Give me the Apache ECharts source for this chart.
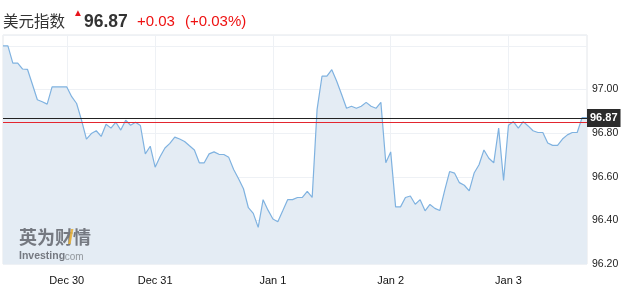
<!DOCTYPE html>
<html>
<head>
<meta charset="utf-8">
<style>html,body{margin:0;padding:0;background:#fff;}#c{width:623px;height:297px;}</style>
<script src="https://cdn.jsdelivr.net/npm/echarts@6/dist/echarts.min.js"></script>
</head>
<body>
<div id="c"></div>
<script>
// ---- data ----
var titleName = '美元指数';
var lastPrice = '96.87';
var changeAbs = '+0.03';
var changePct = '(+0.03%)';
var currentLevel = 96.87;
var prevCloseLevel = 96.85;
var dayLabels = ['Dec 30', 'Dec 31', 'Jan 1', 'Jan 2', 'Jan 3'];
var dayStartIndex = [13, 31, 55, 79, 103];
var yTicks = [96.20, 96.40, 96.60, 96.80, 97.00];
var prices = [
  97.200, 97.200, 97.121, 97.121, 97.094, 97.092, 97.023, 96.953, 96.944, 96.933,
  97.012, 97.012, 97.012, 97.012, 96.967, 96.936, 96.860, 96.773, 96.798, 96.811,
  96.785, 96.841, 96.823, 96.850, 96.814, 96.859, 96.836, 96.850, 96.835, 96.705,
  96.740, 96.644, 96.692, 96.732, 96.753, 96.782, 96.773, 96.762, 96.742, 96.723,
  96.664, 96.664, 96.705, 96.714, 96.703, 96.702, 96.689, 96.633, 96.591, 96.545,
  96.458, 96.432, 96.368, 96.495, 96.447, 96.406, 96.394, 96.444, 96.495, 96.495,
  96.505, 96.505, 96.533, 96.505, 96.909, 97.061, 97.061, 97.091, 97.038, 96.977,
  96.914, 96.923, 96.914, 96.923, 96.941, 96.923, 96.914, 96.941, 96.664, 96.714,
  96.462, 96.462, 96.505, 96.512, 96.474, 96.495, 96.444, 96.473, 96.455, 96.445,
  96.538, 96.624, 96.617, 96.573, 96.561, 96.535, 96.617, 96.655, 96.723, 96.685,
  96.664, 96.823, 96.583, 96.836, 96.853, 96.823, 96.853, 96.833, 96.811, 96.803,
  96.803, 96.755, 96.744, 96.744, 96.773, 96.792, 96.803, 96.803, 96.871, 96.871
];

// ---- build ----
var categories = prices.map(function (p, i) {
  var k = dayStartIndex.indexOf(i);
  return k >= 0 ? dayLabels[k] : 'p' + i;
});
function isDayStart(i) { return dayStartIndex.indexOf(i) >= 0; }

var latin = '"Liberation Sans", Arial, sans-serif';
var cjk = '"Noto Sans CJK SC", "Liberation Sans", sans-serif';

var chart = echarts.init(document.getElementById('c'), null, {renderer: 'canvas'});
chart.setOption({
  animation: false,
  backgroundColor: '#ffffff',
  grid: {left: 3, right: 36, top: 35, bottom: 33, show: true, borderColor: '#e3e6ea', borderWidth: 1},
  xAxis: {
    type: 'category',
    data: categories,
    boundaryGap: false,
    axisLine: {show: false},
    axisTick: {show: false},
    axisLabel: {
      interval: function (i) { return isDayStart(i); },
      color: '#111', fontSize: 11, fontFamily: latin, margin: 11
    },
    splitLine: {show: true, interval: function (i) { return isDayStart(i); }, lineStyle: {color: '#eef1f5', width: 1}}
  },
  yAxis: {
    type: 'value',
    position: 'right',
    min: 96.2, max: 97.25, interval: 0.2,
    axisLine: {show: false},
    axisTick: {show: false},
    axisLabel: {
      color: '#222', fontSize: 10.5, fontFamily: latin, margin: 5,
      formatter: function (v) {
        for (var i = 0; i < yTicks.length; i++) if (Math.abs(yTicks[i] - v) < 1e-6) return yTicks[i].toFixed(2);
        return '';
      }
    },
    splitLine: {show: true, lineStyle: {color: '#eef1f5', width: 1}}
  },
  series: [{
    type: 'line',
    data: prices,
    symbol: 'none',
    smooth: false,
    lineStyle: {color: '#7fb2e0', width: 1.2},
    areaStyle: {color: '#e4ecf4', origin: 'start', opacity: 1},
    markLine: {
      silent: true,
      symbol: ['none', 'none'],
      data: [
        {yAxis: prevCloseLevel, lineStyle: {color: '#e3262f', width: 1, type: 'solid'}, label: {show: false}},
        {yAxis: currentLevel, lineStyle: {color: '#222', width: 1.2, type: 'solid'},
          label: {show: true, position: 'end', formatter: lastPrice, distance: 0,
            backgroundColor: '#2b2b2b', color: '#fff', fontSize: 11, fontWeight: 'bold',
            fontFamily: latin, padding: [4, 3, 3, 3]}}
      ]
    }
  }],
  graphic: [
    {type: 'text', z: 100, left: 3, top: 13, style: {text: titleName, font: '15.5px ' + cjk, fill: '#333'}},
    {type: 'text', z: 100, left: 73, top: 8, style: {text: '▲', font: '10px ' + latin, fill: '#e8141c'}},
    {type: 'text', z: 100, left: 84, top: 13, style: {text: lastPrice, font: 'bold 17.5px ' + latin, fill: '#333'}},
    {type: 'text', z: 100, left: 137, top: 14, style: {text: changeAbs, font: '15px ' + latin, fill: '#ee1111'}},
    {type: 'text', z: 100, left: 185, top: 14, style: {text: changePct, font: '15px ' + latin, fill: '#ee1111'}},
    {type: 'text', z: 100, left: 19, top: 228, style: {text: '英为财情', font: 'bold 18px ' + cjk, fill: '#6b6f76', opacity: 0.92}},
    {type: 'text', z: 101, left: 68, top: 228, style: {text: '/', font: 'bold 20px ' + latin, fill: '#e8b13a', opacity: 0.9}},
    {type: 'text', z: 100, left: 19, top: 251, style: {text: 'Investing', font: 'bold 10.5px ' + latin, fill: '#6b6f76', opacity: 0.92}},
    {type: 'text', z: 100, left: 62, top: 252, style: {text: '.com', font: '10px ' + latin, fill: '#8a8e94', opacity: 0.9}}
  ]
});
</script>
</body>
</html>
